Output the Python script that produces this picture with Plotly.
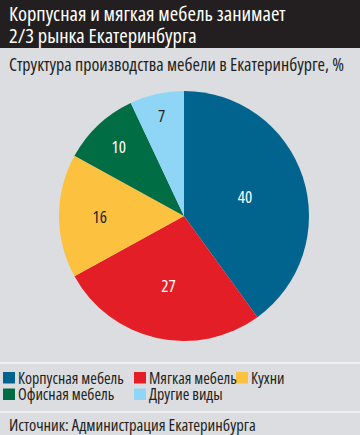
import plotly.graph_objects as go

categories = ["Корпусная мебель", "Мягкая мебель", "Кухни", "Офисная мебель", "Другие виды"]
values = [40, 27, 16, 10, 7]
colors = ["#00648f", "#e41e26", "#fdc140", "#006d45", "#8fd6f6"]
text_colors = ["#ffffff", "#ffffff", "#231f20", "#ffffff", "#231f20"]

title_lines = ["Корпусная и мягкая мебель занимает", "2/3 рынка Екатеринбурга"]
subtitle = "Структура производства мебели в Екатеринбурге, %"
source = "Источник: Администрация Екатеринбурга"

W, H = 360, 435
FONT = "Open Sans"
BG = "#dcdde0"
INK = "#231f20"

cx, cy, r = 184, 216, 125

fig = go.Figure(go.Pie(
    labels=categories, values=values, sort=False, direction="clockwise", rotation=0,
    marker=dict(colors=colors, line=dict(width=0)),
    textinfo="value", textposition="inside", insidetextorientation="horizontal",
    textfont=dict(family=FONT, size=17, color=text_colors),
    showlegend=False, hoverinfo="label+value",
    domain=dict(x=[(cx - r) / W, (cx + r) / W], y=[(H - cy - r) / H, (H - cy + r) / H]),
))


def py(v):
    return 1 - v / H


shapes = [
    dict(type="rect", xref="paper", yref="paper", x0=0, x1=1, y0=py(48), y1=1,
         fillcolor=INK, line=dict(width=0), layer="below"),
    dict(type="line", xref="paper", yref="paper", x0=0, x1=1, y0=py(363), y1=py(363),
         line=dict(color="#f0f0f1", width=2)),
    dict(type="line", xref="paper", yref="paper", x0=0, x1=1, y0=py(412), y1=py(412),
         line=dict(color="#f0f0f1", width=2)),
]
annotations = []


def add_text(text, x, y, size, color):
    annotations.append(dict(text=text, xref="paper", yref="paper", x=x / W, y=py(y),
                            xanchor="left", yanchor="middle", align="left", showarrow=False,
                            borderpad=0, font=dict(family=FONT, size=size, color=color)))


for i, line in enumerate(title_lines):
    add_text(line, 8, 13.5 + 22 * i, 20.5, "#ffffff")
add_text(subtitle, 8, 64.5, 18, INK)
add_text(source, 8, 424, 16.5, INK)

legend_pos = [(3, 377.5), (134, 377.5), (236, 377.5), (3, 394), (134, 394)]
for (lx, ly), name, col in zip(legend_pos, categories, colors):
    shapes.append(dict(type="rect", xref="paper", yref="paper",
                       x0=lx / W, x1=(lx + 12) / W, y0=py(ly + 6), y1=py(ly - 5.5),
                       fillcolor=col, line=dict(width=0)))
    add_text(name, lx + 14, ly, 16, INK)

fig.update_layout(width=W, height=H, margin=dict(l=0, r=0, t=0, b=0),
                  paper_bgcolor=BG, plot_bgcolor=BG, shapes=shapes, annotations=annotations)

# Condensed width of the local variable "Open Sans" via CSS; re-render with a
# changed family string so Plotly re-measures the text with the condensed face.
js = """
var s=document.createElement('style');
s.textContent='body{margin:0;overflow:hidden} text{font-stretch:75% !important}';
document.head.appendChild(s);
var gd=document.getElementById('{plot_id}');
var fix=function(o){return JSON.parse(JSON.stringify(o).replace(/"Open Sans"/g,'"Open Sans, sans-serif"'));};
Plotly.newPlot(gd, fix(gd.data), fix(gd.layout), {displayModeBar:false});
"""
fig.write_html("out.html", post_script=js, config={"displayModeBar": False})
